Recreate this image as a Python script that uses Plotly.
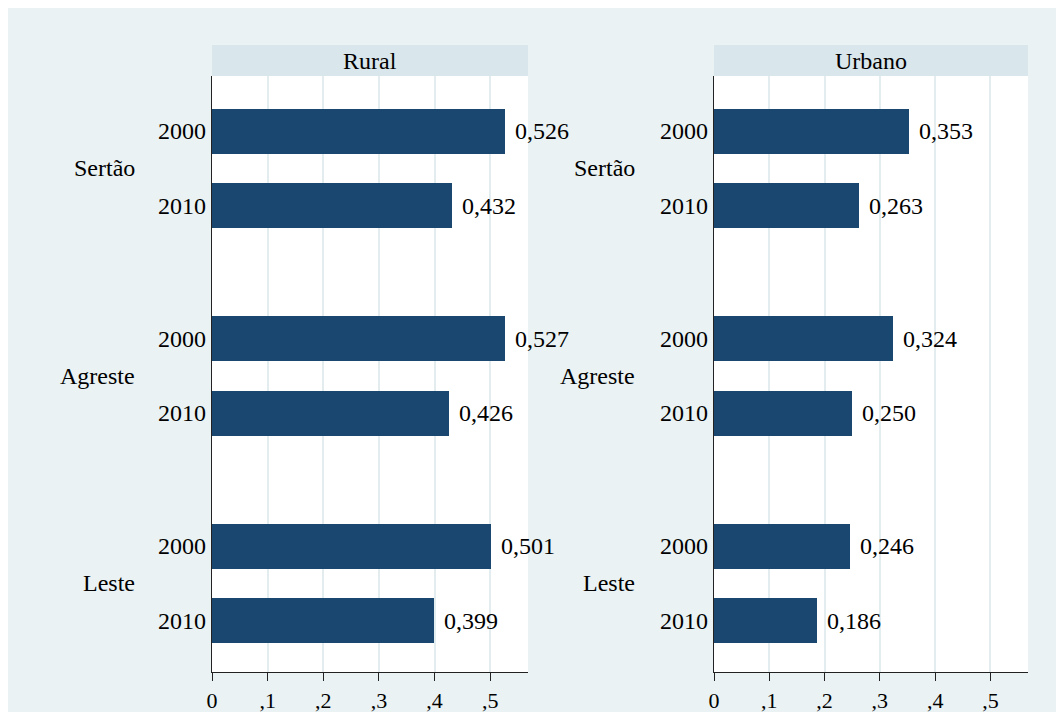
import plotly.graph_objects as go

regions = ["Sertão", "Agreste", "Leste"]
years = ["2000", "2010"]
panels = ["Rural", "Urbano"]
rural_vals = [[0.526, 0.432], [0.527, 0.426], [0.501, 0.399]]
urbano_vals = [[0.353, 0.263], [0.324, 0.250], [0.246, 0.186]]
x_ticks = [0, 0.1, 0.2, 0.3, 0.4, 0.5]
x_ticktext = ["0", ",1", ",2", ",3", ",4", ",5"]

W, H = 1056, 712
BG = "#EAF2F3"
STRIP = "#D9E6EB"
BAR = "#1A476F"
GRID = "#E3ECEF"
FONT = "Liberation Serif"
FS = 24

# layout positions (px-based axis units)
def pos(g, j):
    return 55 + g * 207.5 + j * 74.5

fig = go.Figure()

panel_data = [rural_vals, urbano_vals]
x_doms = [(212 / W, 528 / W), (714 / W, 1028 / W)]
label_right = [137 / W, 637 / W]
y_dom = ((H - 672) / H, (H - 76) / H)

annotations = []
shapes = []

# background with white border at top/left
shapes.append(dict(type="rect", xref="paper", yref="paper", x0=0, x1=8 / W, y0=0, y1=1,
                   fillcolor="white", line=dict(width=0), layer="below"))
shapes.append(dict(type="rect", xref="paper", yref="paper", x0=0, x1=1, y0=(H - 8) / H, y1=1,
                   fillcolor="white", line=dict(width=0), layer="below"))

for p, (name, vals) in enumerate(zip(panels, panel_data)):
    xa = "x" if p == 0 else f"x{p+1}"
    ya = "y" if p == 0 else f"y{p+1}"
    xs, ys, txt = [], [], []
    for g, r in enumerate(regions):
        for j, yr in enumerate(years):
            xs.append(vals[g][j])
            ys.append(pos(g, j))
            txt.append(f"{vals[g][j]:.3f}".replace(".", ","))
    fig.add_trace(go.Bar(x=xs, y=ys, orientation="h", width=45, marker=dict(color=BAR, line=dict(width=0)),
                         xaxis=xa, yaxis=ya, showlegend=False, hoverinfo="skip"))
    for x, y, t in zip(xs, ys, txt):
        annotations.append(dict(x=x, y=y, xref=xa, yref=ya, text=t, showarrow=False,
                                xanchor="left", yanchor="middle", xshift=8,
                                font=dict(family=FONT, size=FS, color="black")))
    for g, r in enumerate(regions):
        annotations.append(dict(x=label_right[p], y=(pos(g, 0) + pos(g, 1)) / 2, xref="paper", yref=ya,
                                text=r, showarrow=False, xanchor="right", yanchor="middle",
                                font=dict(family=FONT, size=FS, color="black")))
    # strip header
    shapes.append(dict(type="rect", xref="paper", yref="paper", x0=x_doms[p][0], x1=x_doms[p][1],
                       y0=(H - 76) / H, y1=(H - 45) / H, fillcolor=STRIP, line=dict(width=0)))
    annotations.append(dict(x=(x_doms[p][0] + x_doms[p][1]) / 2, y=(H - 60.5) / H, xref="paper", yref="paper",
                            text=name, showarrow=False, xanchor="center", yanchor="middle",
                            font=dict(family=FONT, size=FS, color="black")))

    xaxis = dict(domain=x_doms[p], range=[0, 0.568], anchor=ya, tickvals=x_ticks, ticktext=x_ticktext,
                 ticks="outside", ticklen=8, tickcolor="#222", tickwidth=1.2, showline=True, linecolor="#222",
                 linewidth=1.2, showgrid=True, gridcolor=GRID, gridwidth=1.5, zeroline=False, automargin=False,
                 tickfont=dict(family=FONT, size=22, color="black"), fixedrange=True)
    yaxis = dict(domain=y_dom, range=[596, 0], anchor=xa, tickvals=[pos(g, j) for g in range(3) for j in range(2)],
                 ticktext=[y for g in range(3) for y in years], ticks="", showline=True, linecolor="#222",
                 linewidth=1.2, showgrid=False, zeroline=False, ticklabelstandoff=0, automargin=False,
                 tickfont=dict(family=FONT, size=FS, color="black"), fixedrange=True)
    if p == 0:
        fig.update_layout(xaxis=xaxis, yaxis=yaxis)
    else:
        fig.update_layout(xaxis2=xaxis, yaxis2=yaxis)

fig.update_layout(width=W, height=H, margin=dict(l=0, r=0, t=0, b=0, autoexpand=False), paper_bgcolor=BG,
                  plot_bgcolor="white", annotations=annotations, shapes=shapes, bargap=0,
                  font=dict(family=FONT, size=FS, color="black"))

fig.write_html("out.html")
